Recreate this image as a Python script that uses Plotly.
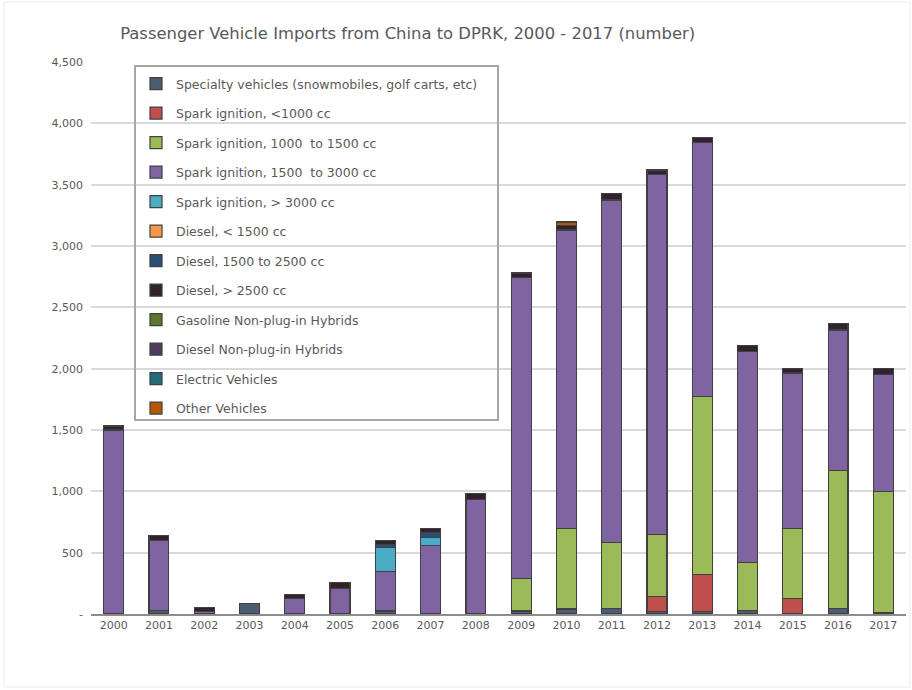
import plotly.graph_objects as go

years = [str(y) for y in range(2000, 2018)]

series_names = [
    "Specialty vehicles (snowmobiles, golf carts, etc)",
    "Spark ignition, <1000 cc",
    "Spark ignition, 1000  to 1500 cc",
    "Spark ignition, 1500  to 3000 cc",
    "Spark ignition, > 3000 cc",
    "Diesel, < 1500 cc",
    "Diesel, 1500 to 2500 cc",
    "Diesel, > 2500 cc",
    "Gasoline Non-plug-in Hybrids",
    "Diesel Non-plug-in Hybrids",
    "Electric Vehicles",
    "Other Vehicles",
]

specialty        = [0, 30, 0, 85, 0, 0, 25, 0, 0, 25, 40, 45, 20, 20, 30, 0, 45, 15]
spark_lt1000     = [0, 0, 0, 0, 0, 0, 0, 0, 0, 0, 0, 0, 120, 300, 0, 125, 0, 0]
spark_1000_1500  = [0, 0, 0, 0, 0, 0, 0, 0, 0, 265, 660, 535, 510, 1450, 390, 575, 1125, 985]
spark_1500_3000  = [1500, 570, 20, 0, 125, 210, 320, 560, 935, 2450, 2430, 2795, 2930, 2075, 1720, 1265, 1145, 950]
spark_gt3000     = [0, 0, 0, 0, 0, 0, 200, 65, 0, 0, 0, 0, 0, 0, 0, 0, 0, 0]
diesel_lt1500    = [0] * 18
diesel_1500_2500 = [0, 0, 0, 0, 0, 0, 20, 40, 0, 0, 0, 0, 0, 0, 0, 0, 0, 0]
diesel_gt2500    = [32, 40, 30, 0, 35, 45, 35, 35, 45, 40, 40, 55, 40, 40, 50, 35, 55, 50]
gas_hybrid       = [0] * 18
diesel_hybrid    = [0] * 18
electric         = [0] * 18
other            = [0, 0, 0, 0, 0, 0, 0, 0, 0, 0, 25, 0, 0, 0, 0, 0, 0, 0]

series_values = [specialty, spark_lt1000, spark_1000_1500, spark_1500_3000, spark_gt3000,
                 diesel_lt1500, diesel_1500_2500, diesel_gt2500, gas_hybrid, diesel_hybrid,
                 electric, other]

colors = ["#4a5d72", "#c0504d", "#9bbb59", "#8064a2", "#4bacc6", "#f79646",
          "#2c4d75", "#32222e", "#5f7530", "#4d3b62", "#276a7c", "#b65708"]

y_tickvals = [0, 500, 1000, 1500, 2000, 2500, 3000, 3500, 4000, 4500]
y_ticktext = ["-", "500", "1,000", "1,500", "2,000", "2,500", "3,000", "3,500", "4,000", "4,500"]

FONT = "DejaVu Sans, Liberation Sans, Arial, sans-serif"

fig = go.Figure()
for name, vals, col in zip(series_names, series_values, colors):
    fig.add_trace(go.Bar(
        x=years,
        y=[v if v else None for v in vals],
        name=name,
        legendgroup=name,
        marker=dict(color=col, line=dict(color="#404040", width=1.2)),
    ))

# plot area in pixels: x 91..906, y 62..614
L, R, T, B = 91, 906, 62, 614
W, H = R - L, B - T
def px_x(p): return (p - L) / W
def px_y(p): return (B - p) / H

fig.update_layout(
    width=912, height=690,
    margin=dict(l=L, r=912 - R, t=T, b=690 - B),
    barmode="stack",
    bargap=0.56,
    paper_bgcolor="white",
    plot_bgcolor="white",
    font=dict(family=FONT, color="#595959", size=11),
    title=dict(
        text="Passenger Vehicle Imports from China to DPRK, 2000 - 2017 (number)",
        x=0.447, xref="container", xanchor="center",
        y=1 - 33 / 690, yref="container", yanchor="middle",
        font=dict(family=FONT, size=16.4, color="#595959"),
    ),
    legend=dict(
        x=px_x(136), y=px_y(69), xanchor="left", yanchor="top",
        bgcolor="rgba(0,0,0,0)", borderwidth=0,
        traceorder="grouped", tracegroupgap=10.25,
        font=dict(family=FONT, size=12.5, color="#595959"),
    ),
    xaxis=dict(
        showgrid=False, showline=True, linecolor="#8c8c8c", linewidth=2,
        ticks="", tickfont=dict(family=FONT, size=11, color="#595959"),
    ),
    yaxis=dict(
        range=[0, 4500], tickvals=y_tickvals, ticktext=y_ticktext,
        showgrid=True, gridcolor="#d9d9d9", gridwidth=1.5,
        zeroline=False, showline=False,
        ticks="", ticklabelstandoff=7,
        tickfont=dict(family=FONT, size=11, color="#595959"),
    ),
    shapes=[
        dict(type="rect", xref="paper", yref="paper",
             x0=px_x(135), x1=px_x(498), y0=px_y(420), y1=px_y(66),
             line=dict(color="#a6a6a6", width=2), fillcolor="rgba(0,0,0,0)", layer="above"),
        dict(type="rect", xref="paper", yref="paper",
             x0=px_x(4), x1=px_x(910), y0=px_y(687), y1=px_y(2),
             line=dict(color="#ececec", width=1), fillcolor="rgba(0,0,0,0)", layer="below"),
    ],
)

fig.write_html(
    "out.html",
    config={"displayModeBar": False},
    post_script="document.body.style.margin='0';document.body.style.overflow='hidden';",
)
